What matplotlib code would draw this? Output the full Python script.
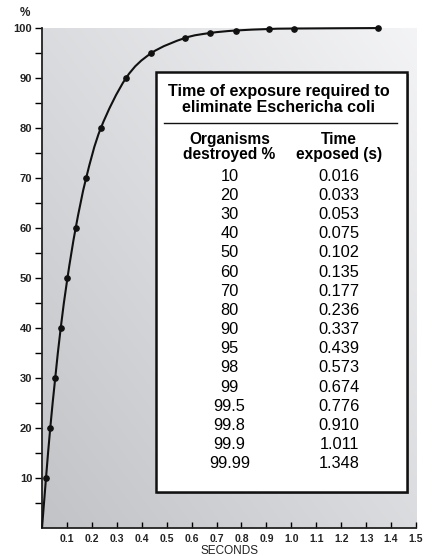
import numpy as np
import matplotlib
matplotlib.use("Agg")
from matplotlib import pyplot as plt
from matplotlib.patches import Rectangle, PathPatch
from matplotlib.path import Path

plt.rcParams['font.family'] = ['Liberation Sans', 'DejaVu Sans']

pct_destroyed = [10, 20, 30, 40, 50, 60, 70, 80, 90, 95, 98, 99, 99.5, 99.8, 99.9, 99.99]
time_exposed = [0.016, 0.033, 0.053, 0.075, 0.102, 0.135, 0.177, 0.236, 0.337,
                0.439, 0.573, 0.674, 0.776, 0.910, 1.011, 1.348]
pct_labels = ["10", "20", "30", "40", "50", "60", "70", "80", "90", "95", "98",
              "99", "99.5", "99.8", "99.9", "99.99"]
time_labels = ["0.016", "0.033", "0.053", "0.075", "0.102", "0.135", "0.177", "0.236",
               "0.337", "0.439", "0.573", "0.674", "0.776", "0.910", "1.011", "1.348"]

x_ticks = [0.1, 0.2, 0.3, 0.4, 0.5, 0.6, 0.7, 0.8, 0.9, 1.0, 1.1, 1.2, 1.3, 1.4, 1.5]
y_ticks = [10, 20, 30, 40, 50, 60, 70, 80, 90, 100]


def smooth_path(xs, ys, ax):
    # Catmull-Rom through the data points, drawn as cubic Bezier segments in display space
    pts = ax.transData.transform(np.column_stack([xs, ys]))
    verts = [pts[0]]
    codes = [Path.MOVETO]
    n = len(pts)
    for i in range(n - 1):
        p0 = pts[i - 1] if i > 0 else pts[i]
        p1 = pts[i]
        p2 = pts[i + 1]
        p3 = pts[i + 2] if i + 2 < n else pts[i + 1]
        c1 = p1 + (p2 - p0) / 6.0
        c2 = p2 - (p3 - p1) / 6.0
        verts += [c1, c2, p2]
        codes += [Path.CURVE4] * 3
    return Path(verts, codes)


fig = plt.figure(figsize=(4.35, 5.56), dpi=100)
ax = fig.add_axes([0.0966, 0.0504, 0.8598, 0.8992])
ax.set_xlim(0, 1.5)
ax.set_ylim(0, 100)

# diagonal gray gradient background
gx, gy = np.meshgrid(np.linspace(0, 1, 200), np.linspace(0, 1, 200))
g = (gx + gy) / 2.0
c0 = np.array([0.76, 0.765, 0.78])
c1 = np.array([0.955, 0.957, 0.965])
img = c0 + (c1 - c0) * g[..., None]
ax.imshow(img, extent=[0, 1.5, 0, 100], origin='lower', aspect='auto', zorder=0)

# curve
curve = smooth_path([0] + time_exposed, [0] + pct_destroyed, ax)
ax.add_patch(PathPatch(curve, transform=None, facecolor='none', edgecolor='#111111',
                       lw=1.5, zorder=3, clip_on=False))
ax.plot(time_exposed, pct_destroyed, 'o', color='#111111', ms=3.8, zorder=4, clip_on=False)

for s in ['top', 'right']:
    ax.spines[s].set_visible(False)
for s in ['left', 'bottom']:
    ax.spines[s].set_linewidth(1.3)
    ax.spines[s].set_color('#222222')

ax.set_xticks(x_ticks)
ax.set_xticklabels(["%.1f" % v for v in x_ticks], fontsize=7.5, fontweight='bold', color='#222222')
ax.set_yticks(y_ticks)
ax.set_yticklabels([str(v) for v in y_ticks], fontsize=8, fontweight='bold', color='#222222')
ax.set_yticks(np.arange(5, 100, 10), minor=True)
ax.tick_params(axis='x', direction='in', length=4, width=1, pad=4)
ax.tick_params(axis='y', which='both', direction='out', length=5, width=1, pad=2)
ax.set_xlabel("SECONDS", fontsize=8.5, color='#222222', labelpad=1)
fig.text(0.057, 0.976, "%", fontsize=8.5, fontweight='bold', ha='center', va='center', color='#222222')

# table box
bx0, bx1, by0, by1 = 0.456, 1.464, 7.2, 91.2
ax.add_patch(Rectangle((bx0 + 0.006, by0 - 0.4), bx1 - bx0, by1 - by0, facecolor='#888888',
                       edgecolor='none', zorder=5))
ax.add_patch(Rectangle((bx0, by0), bx1 - bx0, by1 - by0, facecolor='white',
                       edgecolor='#111111', lw=1.8, zorder=6))

cx = 0.95
ax.text(cx, 85.7, "Time of exposure required to\neliminate Escherichа coli", ha='center', va='center',
        fontsize=11.6, fontweight='bold', linespacing=1.1, zorder=7)
ax.plot([0.49, 1.425], [81.0, 81.0], color='#111111', lw=1.0, zorder=7)
col1, col2 = 0.752, 1.192
ax.text(col1, 76.2, "Organisms\ndestroyed %", ha='center', va='center', fontsize=11.2,
        fontweight='bold', linespacing=1.05, zorder=7)
ax.text(col2, 76.2, "Time\nexposed (s)", ha='center', va='center', fontsize=11.2,
        fontweight='bold', linespacing=1.05, zorder=7)
row0 = 70.4
step = 3.84
for i in range(len(pct_labels)):
    yy = row0 - i * step
    ax.text(col1, yy, pct_labels[i], ha='center', va='center', fontsize=11.8, zorder=7)
    ax.text(col2, yy, time_labels[i], ha='center', va='center', fontsize=11.8, zorder=7)

fig.savefig("out.png", dpi=100)
